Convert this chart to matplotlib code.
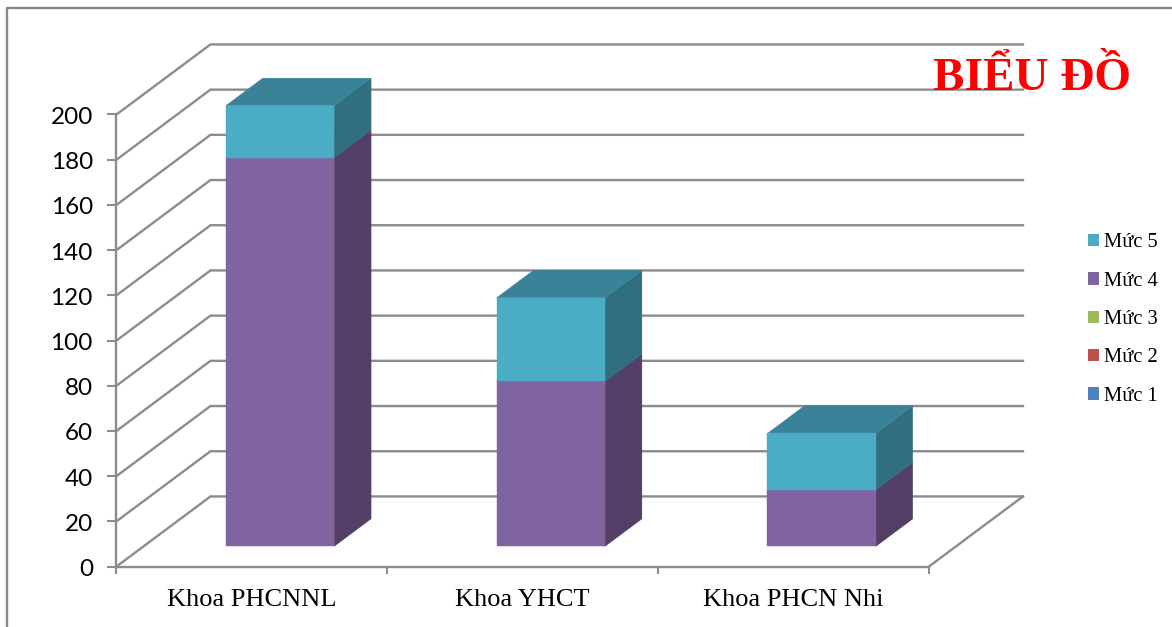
import matplotlib
matplotlib.use("Agg")
import matplotlib.pyplot as plt
from matplotlib.lines import Line2D
from matplotlib.patches import Patch
from matplotlib.transforms import ScaledTranslation

categories = ["Khoa PHCNNL", "Khoa YHCT", "Khoa PHCN Nhi"]
series_names = ["Mức 1", "Mức 2", "Mức 3", "Mức 4", "Mức 5"]
muc1 = [0, 0, 0]
muc2 = [0, 0, 0]
muc3 = [0, 0, 0]
muc4 = [172, 73, 25]
muc5 = [23, 37, 25]
y_ticks = list(range(0, 201, 20))
title = "BIỂU ĐỒ"

front = ["#4F81BD", "#C0504D", "#9BBB59", "#8064A2", "#4BACC6"]
side = ["#3A5F8C", "#8E3B39", "#738A42", "#533F66", "#316F80"]
top = ["#456FA3", "#A64542", "#86A24D", "#6F5690", "#398298"]
GRID = "#8C8C8C"
FRAME = "#868686"

W, H = 1172, 627
fig = plt.figure(figsize=(W / 100, H / 100), dpi=100)
L, R, T, B = 116.5, 929, 114.5, 566.5
ax = fig.add_axes([L / W, 1 - B / H, (R - L) / W, (B - T) / H])
ax.patch.set_visible(False)

DX, DY = 0.347, 31.0     # oblique depth of the chart box, in data units
BAR_W, D0, D1 = 0.40, 0.287, 0.68
BAR_SHIFT = 0.004


def proj(x, y, d):
    return x + DX * d, y + DY * d


# walls and floor
for v in y_ticks:
    a = proj(0, v, 0)
    b = proj(0, v, 1)
    c = proj(3, v, 1)
    ax.plot([a[0], b[0], c[0]], [a[1], b[1], c[1]], color=GRID, lw=1.7,
            clip_on=False, zorder=1, solid_joinstyle="miter")
a, b = proj(3, 0, 0), proj(3, 0, 1)
ax.plot([a[0], b[0]], [a[1], b[1]], color=GRID, lw=1.7, clip_on=False, zorder=1)

# stacked bars
series = [muc1, muc2, muc3, muc4, muc5]
for i in range(len(categories)):
    base = 0
    x0 = i + 0.5 + BAR_SHIFT - BAR_W / 2
    x1 = i + 0.5 + BAR_SHIFT + BAR_W / 2
    for k, vals in enumerate(series):
        v = vals[i]
        if v <= 0:
            continue
        y0, y1 = base, base + v
        f = [proj(x0, y0, D0), proj(x1, y0, D0), proj(x1, y1, D0), proj(x0, y1, D0)]
        s = [proj(x1, y0, D0), proj(x1, y0, D1), proj(x1, y1, D1), proj(x1, y1, D0)]
        t = [proj(x0, y1, D0), proj(x1, y1, D0), proj(x1, y1, D1), proj(x0, y1, D1)]
        for poly, col in ((s, side[k]), (t, top[k]), (f, front[k])):
            ax.fill(*zip(*poly), facecolor=col, edgecolor=col, lw=0.3, clip_on=False, zorder=3)
        base = y1

ax.set_xlim(0, 3)
ax.set_ylim(0, 200)

# axes
for sp in ("top", "right"):
    ax.spines[sp].set_visible(False)
for sp in ("left", "bottom"):
    ax.spines[sp].set_color(GRID)
    ax.spines[sp].set_linewidth(1.7)
    ax.spines[sp].set_zorder(2)
ax.set_yticks(y_ticks)
ax.set_yticklabels([str(v) for v in y_ticks], family="Lato", fontsize=17.5, color="black")
ax.tick_params(axis="y", length=6.5, width=1.5, color=GRID, pad=10.5)
nudge = ScaledTranslation(0, -1.0 / 100, fig.dpi_scale_trans)
for lab in ax.get_yticklabels():
    lab.set_transform(lab.get_transform() + nudge)
ax.set_xticks(range(4))
ax.set_xticklabels([])
ax.set_xticks([i + 0.5 for i in range(3)], minor=True)
ax.set_xticklabels(categories, minor=True, family="Liberation Serif", fontsize=19, color="black")
ax.tick_params(axis="x", which="major", length=5, width=1.5, color=GRID)
ax.tick_params(axis="x", which="minor", length=0, pad=16)

# chart frame
fig.add_artist(Line2D([7 / W, 7 / W, 1], [0, 1 - 8 / H, 1 - 8 / H], color=FRAME, lw=1.7))

# title
fig.text(1032 / W, 1 - 90 / H, title, color="#FF0000", family="Liberation Serif",
         weight="bold", fontsize=34, ha="center", va="baseline")

# legend
handles = [Patch(facecolor=front[k], edgecolor="none", label=series_names[k]) for k in range(5)][::-1]
fig.legend(handles=handles, loc="center left", bbox_to_anchor=(1082 / W, 1 - 319.5 / H),
           frameon=False, prop={"family": "Liberation Serif", "size": 14.8},
           handlelength=0.55, handleheight=0.55, handletextpad=0.2,
           labelspacing=0.94, borderpad=0.3, borderaxespad=0)

fig.savefig("out.png", dpi=100)
